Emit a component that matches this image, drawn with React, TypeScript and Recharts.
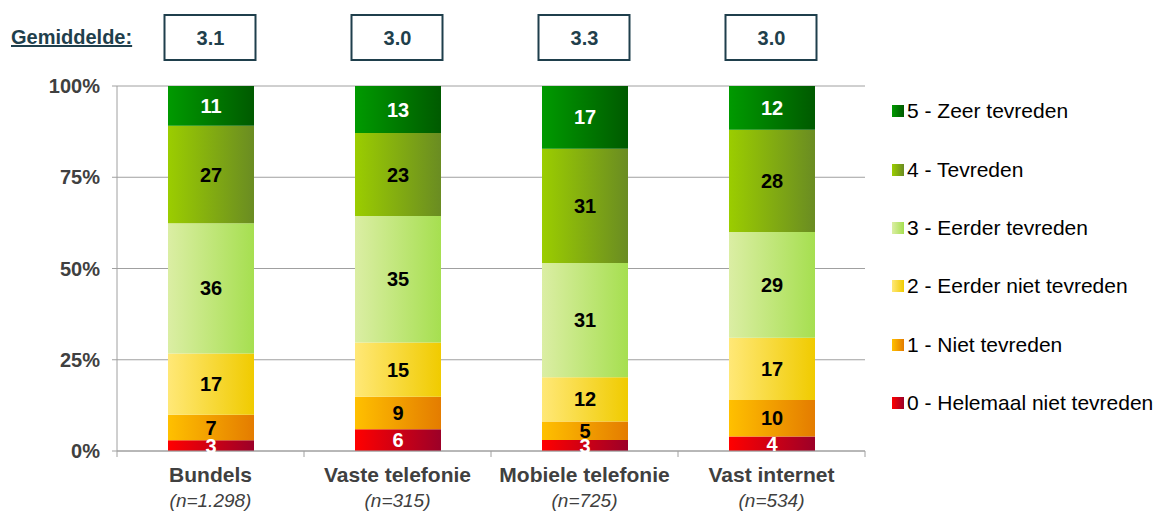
import React from 'react';
import {
  BarChart,
  Bar,
  XAxis,
  YAxis,
  CartesianGrid,
  LabelList,
} from 'recharts';

const categories = ['Bundels', 'Vaste telefonie', 'Mobiele telefonie', 'Vast internet'];
const sampleSizes = ['n=1.298', 'n=315', 'n=725', 'n=534'];
const averages = ['3.1', '3.0', '3.3', '3.0'];

const helemaalNiet = [3, 6, 3, 4];
const niet = [7, 9, 5, 10];
const eerderNiet = [17, 15, 12, 17];
const eerder = [36, 35, 31, 29];
const tevreden = [27, 23, 31, 28];
const zeerTevreden = [11, 13, 17, 12];

const yTicks = [0, 0.25, 0.5, 0.75, 1];

const SERIES = [
  { key: 's0', name: '0 - Helemaal niet tevreden', values: helemaalNiet, from: '#ff0000', to: '#9c0028', label: '#ffffff' },
  { key: 's1', name: '1 - Niet tevreden', values: niet, from: '#ffc000', to: '#e47c00', label: '#000000' },
  { key: 's2', name: '2 - Eerder niet tevreden', values: eerderNiet, from: '#ffe877', to: '#f0cb00', label: '#000000' },
  { key: 's3', name: '3 - Eerder tevreden', values: eerder, from: '#dbeea4', to: '#a6df50', label: '#000000' },
  { key: 's4', name: '4 - Tevreden', values: tevreden, from: '#9bcd00', to: '#6a8c22', label: '#000000' },
  { key: 's5', name: '5 - Zeer tevreden', values: zeerTevreden, from: '#009a00', to: '#005a00', label: '#ffffff' },
];

const data = categories.map((name, i) => {
  const row: Record<string, string | number> = { name, n: sampleSizes[i], avg: averages[i] };
  SERIES.forEach(s => {
    row[s.key] = s.values[i];
  });
  return row;
});

const FONT = '"Liberation Sans", Arial, sans-serif';
const DARK = '#1f3f4c';
const AXIS_GREY = '#a0a0a0';
const TEXT_GREY = '#404040';
const WIDTH = 1162;
const HEIGHT = 512;
const LEFT = 117;
const RIGHT = 297;
const BAND = (WIDTH - LEFT - RIGHT) / categories.length;

function CategoryTick(props: any) {
  const { x, y, payload } = props;
  const row = data[payload.index];
  return (
    <g>
      <line x1={x + BAND / 2} x2={x + BAND / 2} y1={y - 8} y2={y - 2} stroke={AXIS_GREY} />
      {payload.index === 0 && (
        <line x1={x - BAND / 2} x2={x - BAND / 2} y1={y - 8} y2={y - 2} stroke={AXIS_GREY} />
      )}
      <text x={x} y={y + 23} textAnchor="middle" fontFamily={FONT} fontSize={21} fontWeight="bold" fill={TEXT_GREY}>
        {payload.value}
      </text>
      <text x={x} y={y + 48} textAnchor="middle" fontFamily={FONT} fontSize={19} fontStyle="italic" fill={TEXT_GREY}>
        ({row.n})
      </text>
    </g>
  );
}

function AverageTick(props: any) {
  const { x, payload } = props;
  const row = data[payload.index];
  return (
    <g>
      <rect x={x - 46} y={15} width={91} height={45} fill="#ffffff" stroke={DARK} strokeWidth={2} />
      <text x={x} y={45} textAnchor="middle" fontFamily={FONT} fontSize={20} fontWeight="bold" fill={DARK}>
        {row.avg}
      </text>
    </g>
  );
}

function ChartLegend() {
  return (
    <div style={{ position: 'absolute', left: 892, top: 82, fontFamily: FONT, fontSize: 21, color: '#000' }}>
      {[...SERIES].reverse().map(s => (
        <div key={s.key} style={{ height: 58.4, display: 'flex', alignItems: 'center', whiteSpace: 'nowrap' }}>
          <span
            style={{
              width: 12,
              height: 12,
              marginRight: 3,
              flexShrink: 0,
              background: `linear-gradient(to right, ${s.from}, ${s.to})`,
            }}
          />
          <span>{s.name}</span>
        </div>
      ))}
    </div>
  );
}

export default function App() {
  return (
    <div style={{ position: 'relative', width: WIDTH, height: HEIGHT, background: '#fff', overflow: 'hidden' }}>
      <style>{'body{margin:0}'}</style>
      <svg width={0} height={0} style={{ position: 'absolute' }}>
        <defs>
          {SERIES.map(s => (
            <linearGradient key={s.key} id={`grad-${s.key}`} x1="0" y1="0" x2="1" y2="0">
              <stop offset="0%" stopColor={s.from} />
              <stop offset="100%" stopColor={s.to} />
            </linearGradient>
          ))}
        </defs>
      </svg>
      <div
        style={{
          position: 'absolute',
          left: 11,
          top: 26,
          fontFamily: FONT,
          fontSize: 20,
          fontWeight: 'bold',
          color: DARK,
          textDecoration: 'underline',
          zIndex: 2,
        }}
      >
        Gemiddelde:
      </div>
      <BarChart
        width={WIDTH}
        height={HEIGHT}
        data={data}
        stackOffset="expand"
        margin={{ top: 0, right: RIGHT, bottom: 0, left: 0 }}
        barSize={86}
      >
        <CartesianGrid vertical={false} stroke={AXIS_GREY} />
        <XAxis
          dataKey="name"
          axisLine={{ stroke: AXIS_GREY }}
          tickLine={false}
          interval={0}
          height={61}
          tick={<CategoryTick />}
        />
        <XAxis
          xAxisId="top"
          dataKey="name"
          orientation="top"
          axisLine={false}
          tickLine={false}
          interval={0}
          height={86}
          tick={<AverageTick />}
        />
        <YAxis
          width={LEFT}
          ticks={yTicks}
          domain={[0, 1]}
          axisLine={{ stroke: AXIS_GREY }}
          tickLine={{ stroke: AXIS_GREY }}
          tickSize={5}
          tickMargin={12}
          tickFormatter={(v: number) => `${Math.round(v * 100)}%`}
          tick={{ fontFamily: FONT, fontSize: 20, fontWeight: 'bold', fill: TEXT_GREY }}
        />
        {SERIES.map(s => (
          <Bar key={s.key} dataKey={s.key} name={s.name} stackId="a" fill={`url(#grad-${s.key})`} isAnimationActive={false}>
            <LabelList
              dataKey={s.key}
              position="center"
              fill={s.label}
              style={{ fontFamily: FONT, fontSize: 20, fontWeight: 'bold' }}
            />
          </Bar>
        ))}
      </BarChart>
      <ChartLegend />
    </div>
  );
}
